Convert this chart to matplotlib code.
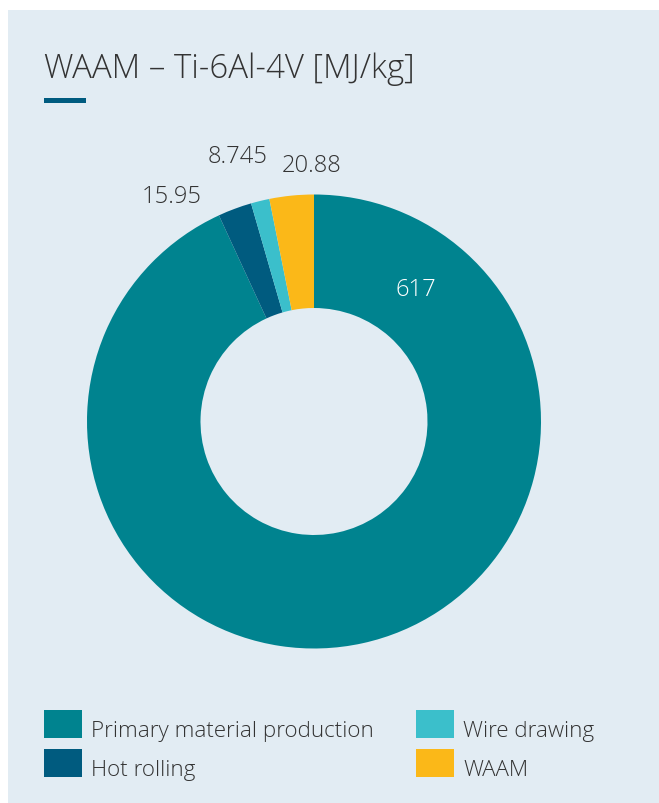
import matplotlib
matplotlib.use("Agg")
import matplotlib.pyplot as plt
from matplotlib.patches import Rectangle

# Energiebedarf je Prozessschritt [MJ/kg]
categorias = ["Primary material production", "Hot rolling", "Wire drawing", "WAAM"]
valores = [617, 15.95, 8.745, 20.88]
rotulos = ["617", "15.95", "8.745", "20.88"]
cores = ["#00838f", "#005b7f", "#3bbfcb", "#fbb818"]

W, H = 659, 804
FUNDO = "#e2ecf3"
TEXTO = "#333333"
plt.rcParams["font.family"] = ["Open Sans", "DejaVu Sans"]


def px(x, y):
    """pixel (origem no topo) -> fracao da figura"""
    return x / W, 1 - y / H


fig = plt.figure(figsize=(W / 100, H / 100), dpi=100)
fig.patch.set_facecolor("white")
fig.patches.append(Rectangle(px(8, 804), (W - 8) / W, (804 - 11) / H,
                             transform=fig.transFigure, facecolor=FUNDO,
                             edgecolor="none", zorder=-5))

# titulo + barrinha
fig.text(*px(44, 78), "WAAM \u2013 Ti-6Al-4V [MJ/kg]", fontsize=23.8,
         color=TEXTO, va="baseline", ha="left", fontweight="light")
fig.patches.append(Rectangle(px(44, 104.3), 42 / W, 5.6 / H,
                             transform=fig.transFigure, facecolor=cores[1],
                             edgecolor="none"))

# donut
cx, cy, R = 314, 422.5, 227
ax = fig.add_axes([(cx - R) / W, 1 - (cy + R) / H, 2 * R / W, 2 * R / H])
ax.set_facecolor("none")
ax.pie(valores, colors=cores, startangle=90, counterclock=False,
       radius=1, wedgeprops=dict(width=0.5, edgecolor="none"))
ax.set_xlim(-1, 1)
ax.set_ylim(-1, 1)
ax.set_aspect("equal")
ax.axis("off")

# posicao dos rotulos (x centro, y baseline) em unidades do raio
pos_rotulos = [(0.449, 0.559), (-0.628, 0.966), (-0.337, 1.144), (-0.011, 1.102)]
cor_rotulo = ["white", TEXTO, TEXTO, TEXTO]
for txt, (x, y), c in zip(rotulos, pos_rotulos, cor_rotulo):
    ax.text(x, y, txt, ha="center", va="baseline", fontsize=17.1, color=c,
            fontweight="light", clip_on=False)

# legenda manual, 2 colunas
col_x = [44, 416]
lin_y = [711, 750]
for i, (nome, c) in enumerate(zip(categorias, cores)):
    x0 = col_x[i // 2]
    y0 = lin_y[i % 2]
    fig.patches.append(Rectangle(px(x0, y0 + 28), 38 / W, 28 / H,
                                 transform=fig.transFigure, facecolor=c,
                                 edgecolor="none"))
    fig.text(*px(x0 + 47, y0 + 26), nome, fontsize=16.1, color=TEXTO,
             va="baseline", ha="left", fontweight="light")

fig.savefig("out.png", dpi=100, facecolor=fig.get_facecolor())
